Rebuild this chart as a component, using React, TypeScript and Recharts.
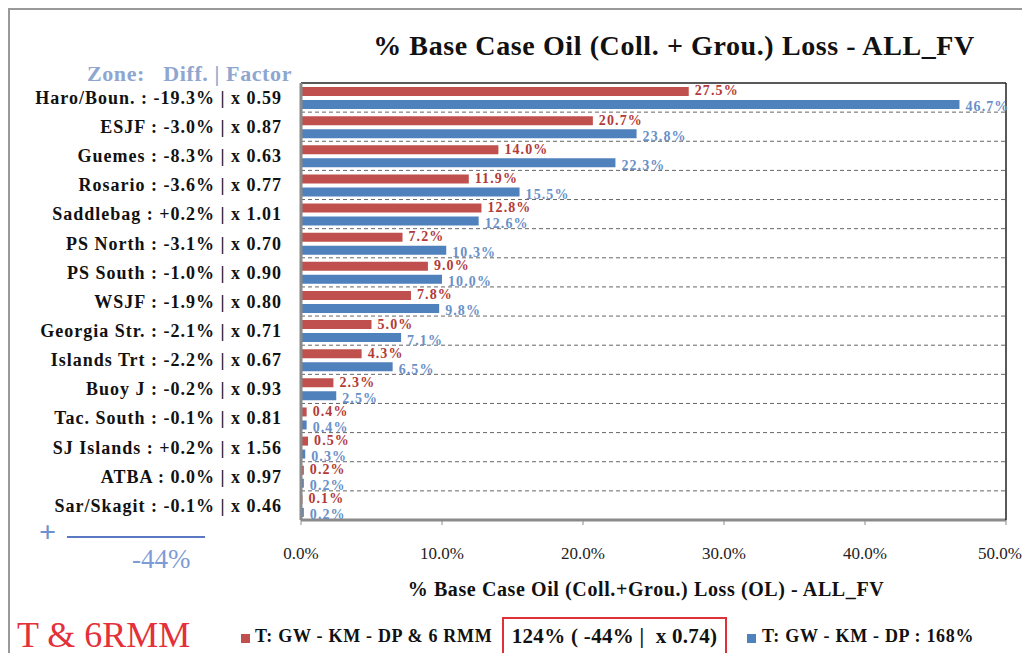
import React from "react";
import { BarChart, Bar, XAxis, YAxis, CartesianGrid, LabelList } from "recharts";

const zones = ["Haro/Boun.", "ESJF", "Guemes", "Rosario", "Saddlebag", "PS North", "PS South", "WSJF", "Georgia Str.", "Islands Trt", "Buoy J", "Tac. South", "SJ Islands", "ATBA", "Sar/Skagit"];
const diffs = ["-19.3%", "-3.0%", "-8.3%", "-3.6%", "+0.2%", "-3.1%", "-1.0%", "-1.9%", "-2.1%", "-2.2%", "-0.2%", "-0.1%", "+0.2%", "0.0%", "-0.1%"];
const factors = ["0.59", "0.87", "0.63", "0.77", "1.01", "0.70", "0.90", "0.80", "0.71", "0.67", "0.93", "0.81", "1.56", "0.97", "0.46"];
const withRmm = [27.5, 20.7, 14.0, 11.9, 12.8, 7.2, 9.0, 7.8, 5.0, 4.3, 2.3, 0.4, 0.5, 0.2, 0.1];
const baseline = [46.7, 23.8, 22.3, 15.5, 12.6, 10.3, 10.0, 9.8, 7.1, 6.5, 2.5, 0.4, 0.3, 0.2, 0.2];
const xTicks = [0, 10, 20, 30, 40, 50];

const data = zones.map((z, i) => ({
  label: `${z} : ${diffs[i]} | x ${factors[i]}`,
  rmm: withRmm[i],
  base: baseline[i],
}));

const SERIF = "'Liberation Serif', 'DejaVu Serif', serif";
const RED = "#c0504d";
const BLUE = "#4f81bd";
const RED_LABEL = "#b23a38";
const BLUE_LABEL = "#6a90c8";

const fmt = (v: any) => `${Number(v).toFixed(1)}%`;

export default function App() {
  const W = 1014;
  const H = 645;
  return (
    <div style={{ position: "relative", width: W, height: H, fontFamily: SERIF, borderLeft: "2px solid #999", borderTop: "2px solid #999", boxSizing: "border-box" }}>
      <div style={{ position: "absolute", left: -2, top: -2 }}>
        <BarChart
          width={W}
          height={H}
          data={data}
          layout="vertical"
          margin={{ top: 74, right: 15, bottom: 99, left: 0 }}
          barSize={9}
          barGap={4}
        >
          <CartesianGrid
            vertical={false}
            stroke="#666"
            strokeDasharray="4 3"
            horizontalCoordinatesGenerator={(p: any) => {
              const top = p?.offset?.top ?? 75;
              const h = p?.offset?.height ?? 437;
              const n = zones.length;
              return Array.from({ length: n - 1 }, (_, i) => top + ((i + 1) * h) / n);
            }}
          />
          <XAxis
            type="number"
            domain={[0, 50]}
            ticks={xTicks}
            tickFormatter={fmt}
            axisLine={{ stroke: "#8a8a8a", strokeWidth: 3 }}
            tickLine={{ stroke: "#8a8a8a" }}
            tickSize={5}
            tickMargin={22}
            height={34}
            tick={{ fill: "#222", fontSize: 17, fontFamily: SERIF }}
          />
          <XAxis
            xAxisId="top"
            orientation="top"
            type="number"
            domain={[0, 50]}
            height={1}
            tick={false}
            tickLine={false}
            axisLine={{ stroke: "#222", strokeWidth: 1.5 }}
          />
          <YAxis
            type="category"
            dataKey="label"
            width={293}
            interval={0}
            tickLine={false}
            tickSize={0}
            tickMargin={19}
            axisLine={{ stroke: "#8a8a8a", strokeWidth: 3 }}
            tick={{ fill: "#111", fontSize: 18, fontWeight: "bold", fontFamily: SERIF, letterSpacing: 1 }}
          />
          <YAxis
            yAxisId="right"
            orientation="right"
            type="category"
            dataKey="label"
            width={1}
            tick={false}
            tickLine={false}
            axisLine={{ stroke: "#222", strokeWidth: 1.5 }}
          />
          <Bar dataKey="rmm" fill={RED} isAnimationActive={false}>
            <LabelList dataKey="rmm" position="right" offset={6} dy={-1} formatter={fmt} fill={RED_LABEL} fontSize={14} fontWeight="bold" fontFamily={SERIF} style={{ letterSpacing: 1.1 }} />
          </Bar>
          <Bar dataKey="base" fill={BLUE} isAnimationActive={false}>
            <LabelList dataKey="base" position="right" offset={6} dy={2} formatter={fmt} fill={BLUE_LABEL} fontSize={14} fontWeight="bold" fontFamily={SERIF} style={{ letterSpacing: 1.1 }} />
          </Bar>
        </BarChart>
      </div>

      <div style={{ position: "absolute", left: 334, top: 20, width: 660, textAlign: "center", fontSize: 28, fontWeight: "bold", color: "#111", whiteSpace: "nowrap", letterSpacing: 0.6 }}>
        % Base Case Oil (Coll. + Grou.) Loss - ALL_FV
      </div>
      <div style={{ position: "absolute", left: 77, top: 51, fontSize: 22, fontWeight: "bold", color: "#8ea6d0", whiteSpace: "pre", letterSpacing: 0.6 }}>
        {"Zone:   Diff. | Factor"}
      </div>
      <div style={{ position: "absolute", left: 336, top: 568, width: 600, textAlign: "center", fontSize: 20, fontWeight: "bold", color: "#111", whiteSpace: "nowrap", letterSpacing: 0.6 }}>
        % Base Case Oil (Coll.+Grou.) Loss (OL) - ALL_FV
      </div>

      <div style={{ position: "absolute", left: 29, top: 505, fontSize: 30, fontWeight: "bold", color: "#6f8fd0" }}>+</div>
      <div style={{ position: "absolute", left: 57, top: 526, width: 138, height: 2, background: "#5b79c2" }} />
      <div style={{ position: "absolute", left: 122, top: 534, fontSize: 27, color: "#7d9bd6" }}>-44%</div>

      <div style={{ position: "absolute", left: 7, top: 604, fontSize: 36, color: "#e4303a", whiteSpace: "nowrap" }}>T &amp; 6RMM</div>

      <div style={{ position: "absolute", left: 231, top: 624, width: 9, height: 9, background: RED }} />
      <div style={{ position: "absolute", left: 245, top: 616, fontSize: 18, fontWeight: "bold", color: "#111", whiteSpace: "nowrap", letterSpacing: 0.7 }}>T: GW - KM - DP &amp; 6 RMM</div>
      <div style={{ position: "absolute", left: 492, top: 607, width: 225, height: 41, border: "2px solid #e0303a", boxSizing: "border-box" }} />
      <div style={{ position: "absolute", left: 492, top: 614, width: 225, textAlign: "center", fontSize: 21, fontWeight: "bold", color: "#111", whiteSpace: "pre", letterSpacing: 0.3 }}>{"124% ( -44% |  x 0.74)"}</div>
      <div style={{ position: "absolute", left: 737, top: 624, width: 9, height: 9, background: BLUE }} />
      <div style={{ position: "absolute", left: 752, top: 616, fontSize: 18, fontWeight: "bold", color: "#111", whiteSpace: "nowrap", letterSpacing: 0.7 }}>T: GW - KM - DP : 168%</div>
    </div>
  );
}
